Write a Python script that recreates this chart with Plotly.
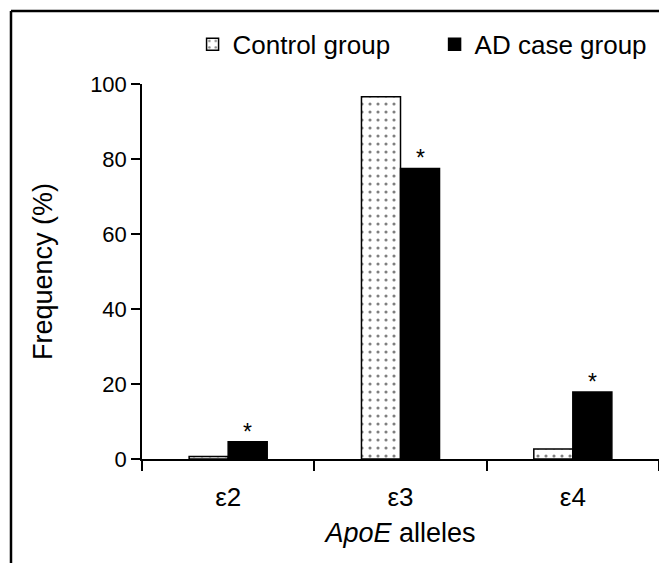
import plotly.graph_objects as go

categories = ["ε2", "ε3", "ε4"]
control_values = [0.7, 96.6, 2.7]
ad_values = [4.6, 77.5, 17.9]
ad_marks = ["*", "*", "*"]
y_ticks = [0, 20, 40, 60, 80, 100]

FONT = "Liberation Sans, Arial, sans-serif"

fig = go.Figure()
fig.add_trace(go.Bar(
    name="Control group",
    x=categories, y=control_values,
    marker=dict(color="white",
                line=dict(color="black", width=1.5),
                pattern=dict(shape=".", fgcolor="black", bgcolor="white",
                             size=8, solidity=0.12, fillmode="overlay")),
))
fig.add_trace(go.Bar(
    name="AD case group",
    x=categories, y=ad_values,
    marker=dict(color="black", line=dict(color="black", width=1.5)),
))

# significance marks above the AD bars
for cat, val, mark in zip(categories, ad_values, ad_marks):
    fig.add_annotation(x=cat, y=val, text=mark, showarrow=False,
                       xref="x", yref="y", xshift=19.5,
                       yanchor="bottom", yshift=-5,
                       font=dict(size=23, family=FONT, color="black"))

# frame lines (left and top of the figure box)
fig.add_shape(type="line", xref="paper", yref="paper",
              x0=-0.2534, x1=-0.2534, y0=1.1947, y1=-0.4,
              line=dict(color="black", width=2.5))
fig.add_shape(type="line", xref="paper", yref="paper",
              x0=-0.2534, x1=1.1, y0=1.1947, y1=1.1947,
              line=dict(color="black", width=2.5))

fig.update_layout(
    width=659, height=555,
    margin=dict(l=134, r=8, t=76, b=104, autoexpand=False),
    paper_bgcolor="white", plot_bgcolor="white",
    font=dict(family=FONT, size=22, color="black"),
    barmode="group", bargap=0.547, bargroupgap=0,
    showlegend=True,
    legend=dict(orientation="h", x=1.034, xanchor="right",
                y=1.106, yanchor="middle",
                font=dict(size=26, family=FONT),
                bgcolor="rgba(0,0,0,0)", itemwidth=30,
                entrywidth=197, entrywidthmode="pixels",
                traceorder="normal"),
    xaxis=dict(
        type="category", showline=True, linecolor="black", linewidth=1.5,
        ticks="outside", tickson="boundaries", ticklen=10, tickwidth=1.5,
        tickcolor="black", showgrid=False, zeroline=False, automargin=False,
        tickfont=dict(size=26, family=FONT), ticklabelstandoff=14,
        title=dict(text="<i>ApoE</i> alleles", font=dict(size=27, family=FONT), standoff=12),
    ),
    yaxis=dict(
        range=[0, 100], tickvals=y_ticks, showline=True, linecolor="black",
        linewidth=1.5, ticks="outside", ticklen=9, tickwidth=1.5, tickcolor="black",
        showgrid=False, zeroline=False, automargin=False,
        tickfont=dict(size=22, family=FONT),
        title=dict(text="Frequency (%)", font=dict(size=27, family=FONT), standoff=30),
    ),
)

fig.write_html("out.html")
